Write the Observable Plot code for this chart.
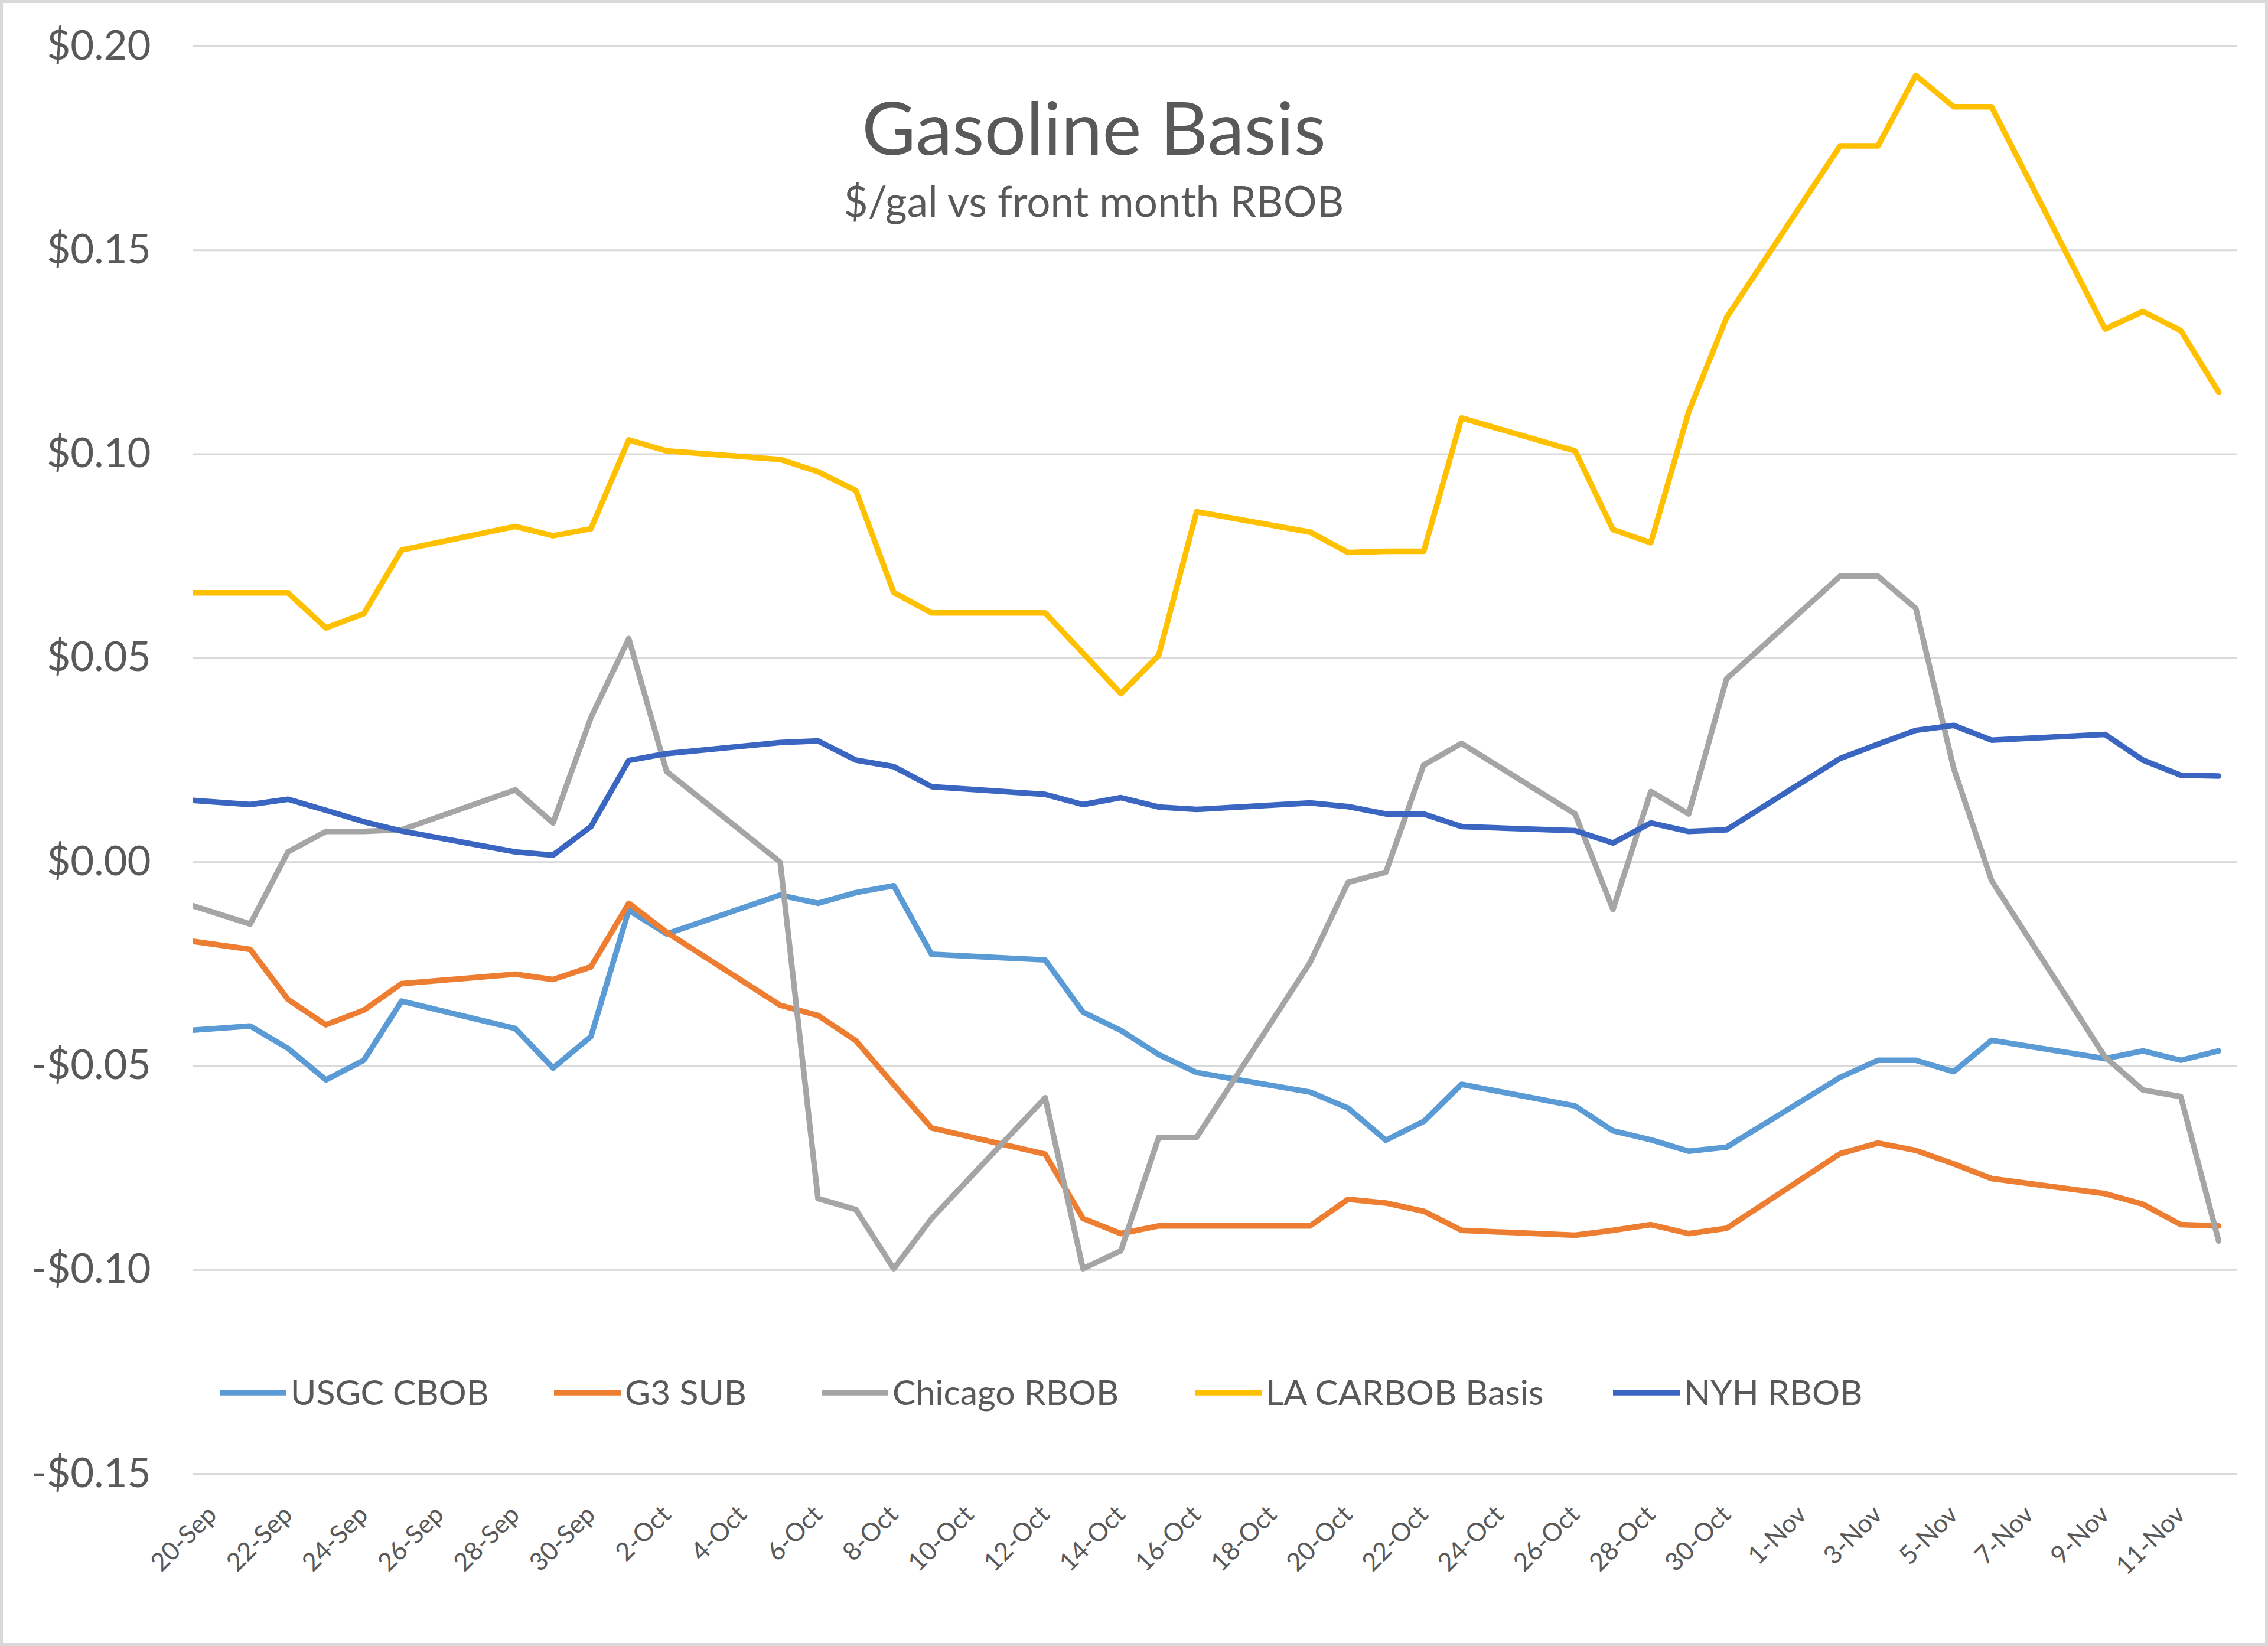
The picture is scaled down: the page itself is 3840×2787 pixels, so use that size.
<!DOCTYPE html>
<html>
<head>
<meta charset="utf-8">
<script src="https://cdn.jsdelivr.net/npm/d3@7"></script>
<script src="https://cdn.jsdelivr.net/npm/@observablehq/plot@0.6"></script>
<style>
  html, body { margin: 0; padding: 0; background: #ffffff; }
  #wrap { position: relative; width: 3840px; height: 2787px; overflow: hidden; background: #fff; }
  #wrap > svg { position: absolute; left: 0; top: 0; }
  #frame { position: absolute; left: 0; top: 0; width: 3840px; height: 2787px; box-sizing: border-box; border: 5px solid #d9d9d9; pointer-events: none; }
</style>
</head>
<body>
<div id="wrap"><div id="frame"></div></div>
<script>
// ---- Data (business days, 2020) ----
const dates = [
  "2020-09-18","2020-09-21","2020-09-22","2020-09-23","2020-09-24","2020-09-25",
  "2020-09-28","2020-09-29","2020-09-30","2020-10-01","2020-10-02",
  "2020-10-05","2020-10-06","2020-10-07","2020-10-08","2020-10-09",
  "2020-10-12","2020-10-13","2020-10-14","2020-10-15","2020-10-16",
  "2020-10-19","2020-10-20","2020-10-21","2020-10-22","2020-10-23",
  "2020-10-26","2020-10-27","2020-10-28","2020-10-29","2020-10-30",
  "2020-11-02","2020-11-03","2020-11-04","2020-11-05","2020-11-06",
  "2020-11-09","2020-11-10","2020-11-11","2020-11-12"
];
const usgcCbob = [
  -0.0422,-0.0402,-0.0457,-0.0534,-0.0486,-0.0341,
  -0.0408,-0.0505,-0.0428,-0.0118,-0.0176,
  -0.0081,-0.0101,-0.0075,-0.0058,-0.0226,
  -0.0240,-0.0368,-0.0413,-0.0472,-0.0516,
  -0.0564,-0.0603,-0.0682,-0.0636,-0.0545,
  -0.0598,-0.0659,-0.0681,-0.0709,-0.0699,
  -0.0528,-0.0486,-0.0486,-0.0514,-0.0437,
  -0.0482,-0.0463,-0.0486,-0.0463
];
const g3Sub = [
  -0.0175,-0.0214,-0.0337,-0.0399,-0.0363,-0.0298,
  -0.0275,-0.0288,-0.0257,-0.0101,-0.0172,
  -0.0351,-0.0376,-0.0438,-0.0546,-0.0652,
  -0.0716,-0.0874,-0.0911,-0.0892,-0.0892,
  -0.0892,-0.0827,-0.0836,-0.0856,-0.0903,
  -0.0915,-0.0903,-0.0889,-0.0911,-0.0898,
  -0.0715,-0.0689,-0.0707,-0.0740,-0.0776,
  -0.0813,-0.0839,-0.0889,-0.0892
];
const chicagoRbob = [
  -0.0063,-0.0152,0.0025,0.0075,0.0075,0.0079,
  0.0177,0.0096,0.0354,0.0548,0.0222,
  0.0000,-0.0825,-0.0852,-0.0997,-0.0874,
  -0.0578,-0.0997,-0.0953,-0.0675,-0.0675,
  -0.0246,-0.0050,-0.0025,0.0238,0.0291,
  0.0118,-0.0116,0.0173,0.0118,0.0449,
  0.0701,0.0701,0.0622,0.0230,-0.0045,
  -0.0478,-0.0559,-0.0575,-0.0929
];
const laCarbobBasis = [
  0.0660,0.0660,0.0660,0.0574,0.0609,0.0765,
  0.0823,0.0800,0.0817,0.1035,0.1008,
  0.0987,0.0957,0.0911,0.0661,0.0611,
  0.0611,0.0512,0.0413,0.0507,0.0859,
  0.0809,0.0759,0.0762,0.0762,0.1089,
  0.1008,0.0815,0.0783,0.1104,0.1335,
  0.1756,0.1756,0.1929,0.1852,0.1852,
  0.1307,0.1350,0.1303,0.1152
];
const nyhRbob = [
  0.0161,0.0141,0.0154,0.0127,0.0099,0.0076,
  0.0025,0.0017,0.0087,0.0249,0.0266,
  0.0293,0.0297,0.0250,0.0234,0.0185,
  0.0166,0.0141,0.0158,0.0135,0.0129,
  0.0145,0.0136,0.0118,0.0118,0.0087,
  0.0077,0.0047,0.0096,0.0075,0.0079,
  0.0254,0.0289,0.0323,0.0335,0.0299,
  0.0313,0.0250,0.0213,0.0211
];
const seriesNames = ["USGC CBOB", "G3 SUB", "Chicago RBOB", "LA CARBOB Basis", "NYH RBOB"];
const seriesColors = ["#5B9BD5", "#ED7D31", "#A5A5A5", "#FFC000", "#3A66C2"];
const yTicks = [-0.15, -0.10, -0.05, 0.00, 0.05, 0.10, 0.15, 0.20];
const xTickDates = [
  "2020-09-20","2020-09-22","2020-09-24","2020-09-26","2020-09-28","2020-09-30",
  "2020-10-02","2020-10-04","2020-10-06","2020-10-08","2020-10-10","2020-10-12",
  "2020-10-14","2020-10-16","2020-10-18","2020-10-20","2020-10-22","2020-10-24",
  "2020-10-26","2020-10-28","2020-10-30",
  "2020-11-01","2020-11-03","2020-11-05","2020-11-07","2020-11-09","2020-11-11"
];
const titleText = "Gasoline Basis";
const subtitleText = "$/gal vs front month RBOB";

// ---- Build table ----
const seriesValues = [usgcCbob, g3Sub, chicagoRbob, laCarbobBasis, nyhRbob];
const rows = seriesNames.flatMap((name, i) =>
  dates.map((d, j) => ({date: new Date(d), value: seriesValues[i][j], series: name})));

const FONT = "Lato, 'Open Sans', sans-serif";
const TEXT = "#595959";
const fmtY = v => (v < -1e-9 ? "-" : "") + "$" + Math.abs(v).toFixed(2);

const chart = Plot.plot({
  width: 3840,
  height: 2787,
  marginLeft: 327,
  marginRight: 52,
  marginTop: 78,
  marginBottom: 292,
  style: {fontFamily: FONT, color: TEXT, background: "transparent", overflow: "visible"},
  x: {type: "utc", domain: [new Date("2020-09-19T12:00Z"), new Date("2020-11-12T12:00Z")]},
  y: {domain: [-0.15, 0.20]},
  color: {domain: seriesNames, range: seriesColors},
  marks: [
    Plot.gridY(yTicks, {stroke: "#d9d9d9", strokeOpacity: 1, strokeWidth: 3}),
    Plot.axisY(yTicks, {tickSize: 0, tickPadding: 72, tickFormat: fmtY, fontSize: 69, fill: TEXT, label: null}),
    Plot.axisX(xTickDates.map(d => new Date(d)), {
      tickSize: 0, tickPadding: 62, tickRotate: -45,
      tickFormat: d3.utcFormat("%-d-%b"), fontSize: 43, fill: TEXT, label: null
    }),
    Plot.line(rows, {x: "date", y: "value", z: "series", stroke: "series",
      strokeWidth: 9.5, clip: true, strokeLinejoin: "round", strokeLinecap: "round"})
  ]
});
const wrap = document.getElementById("wrap");
wrap.insertBefore(chart, document.getElementById("frame"));

// ---- Overlay: title, subtitle, legend ----
const ov = d3.select(wrap).append("svg")
  .attr("width", 3840).attr("height", 2787)
  .style("position", "absolute").style("left", "0px").style("top", "0px")
  .style("pointer-events", "none")
  .style("font-family", FONT);

ov.append("text").text(titleText)
  .attr("x", 1852).attr("y", 262).attr("text-anchor", "middle")
  .attr("font-size", 125).attr("fill", TEXT);
ov.append("text").text(subtitleText)
  .attr("x", 1852).attr("y", 367).attr("text-anchor", "middle")
  .attr("font-size", 71).attr("fill", TEXT);

// legend (entry start positions follow the reference layout)
const legendStarts = [372, 938, 1391, 2023, 2731];
const ly = 2358;
seriesNames.forEach((name, i) => {
  const lx = legendStarts[i];
  ov.append("line").attr("x1", lx).attr("x2", lx + 113).attr("y1", ly).attr("y2", ly)
    .attr("stroke", seriesColors[i]).attr("stroke-width", 9.5);
  ov.append("text").text(name)
    .attr("x", lx + 120).attr("y", ly + 21)
    .attr("font-size", 59).attr("fill", TEXT);
});
</script>
</body>
</html>
